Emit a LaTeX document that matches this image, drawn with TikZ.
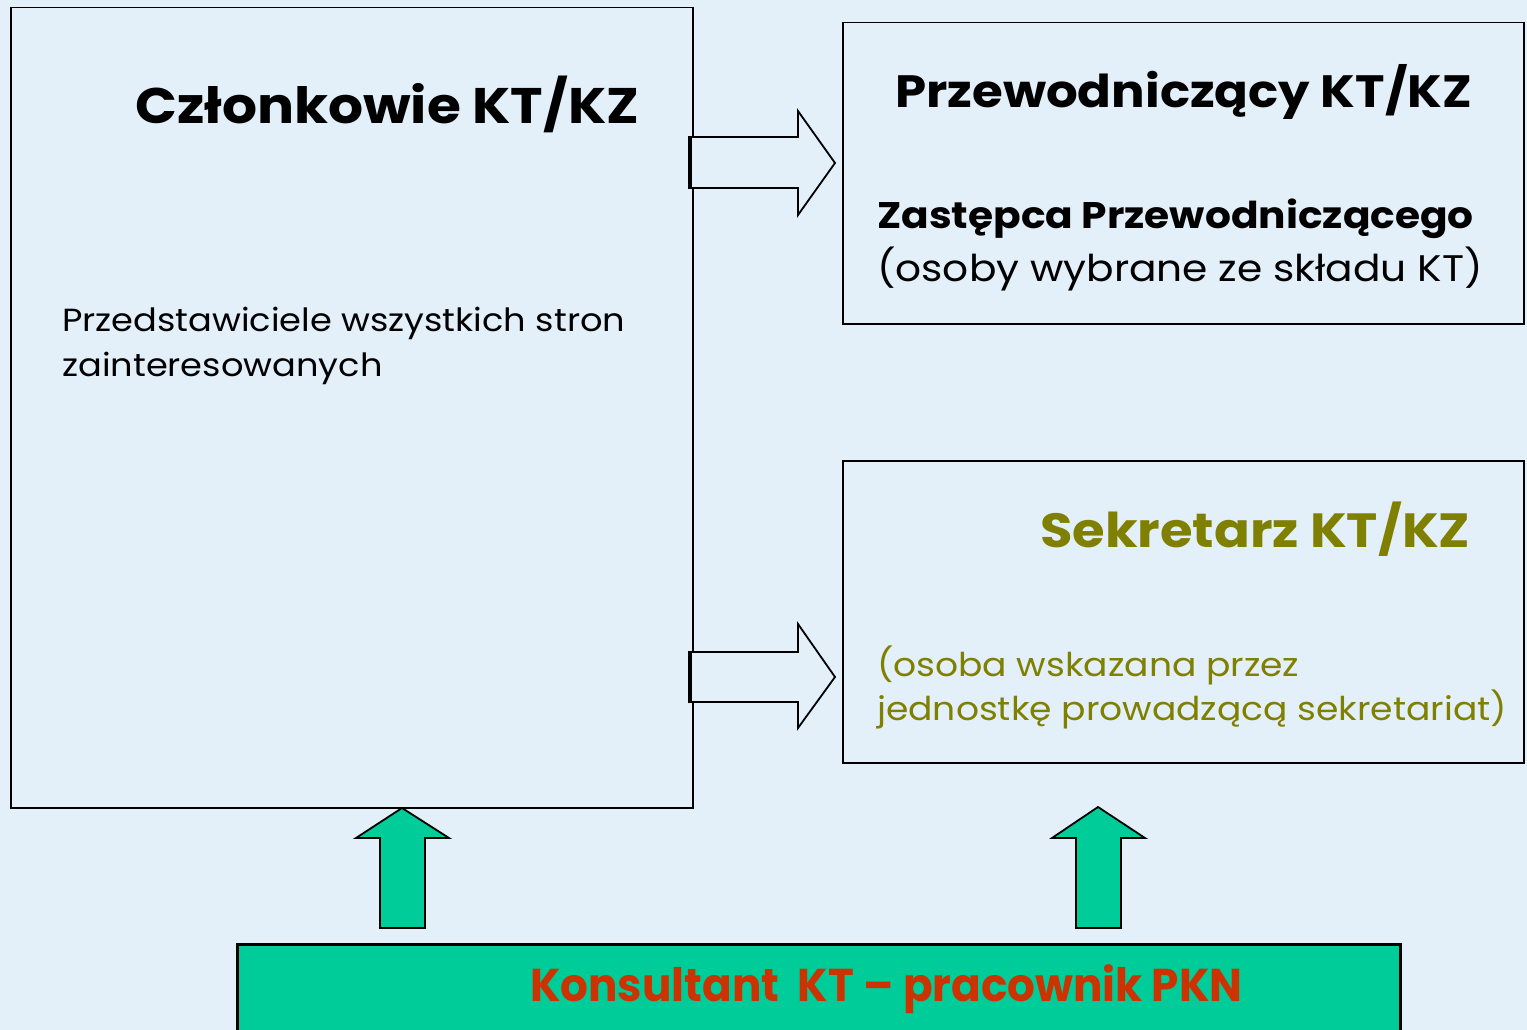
\documentclass[tikz,border=0pt]{standalone}
\usepackage{fontspec}
\setmainfont[FakeStretch=1.1]{Poppins}
\newfontfamily\condfont[FakeStretch=0.95]{Poppins}
\definecolor{bg}{HTML}{E3EFF9}
\definecolor{grn}{HTML}{00CC99}
\definecolor{olive}{HTML}{808000}
\definecolor{rust}{HTML}{CC3300}
\begin{document}
\begin{tikzpicture}[x=1pt,y=-1pt,
  box/.style={draw=black,line width=1.5pt,fill=bg,anchor=north west,inner sep=0pt},
  txt/.style={anchor=base west,inner sep=0pt},
  outarrow/.style={draw=black,line width=1.8pt,fill=bg,line join=miter},
  uparrow/.style={draw=black,line width=1.8pt,fill=grn,line join=miter}]
\useasboundingbox (0,0) rectangle (1527,1030);
\fill[bg] (0,0) rectangle (1527,1030);
% boxes
\node[box,minimum width=682pt,minimum height=800pt] (members) at (10,7) {};
\node[box,minimum width=681pt,minimum height=301pt] (chair) at (842,22) {};
\node[box,minimum width=681pt,minimum height=302pt] (secr) at (842,460) {};
% green box
\fill[grn] (237,944) rectangle (1400,1032);
\draw[line width=3pt] (237,1032) -- (237,944) -- (1400,944) -- (1400,1032);
% right arrows
\draw[outarrow] (691,137) -- (798,137) -- (798,111) -- (835,163) -- (798,215) -- (798,188) -- (691,188);
\draw[line width=4pt] (690,136) -- (690,189);
\draw[outarrow] (691,652) -- (798,652) -- (798,624) -- (835,677) -- (798,728) -- (798,702) -- (691,702);
\draw[line width=4pt] (690,651) -- (690,703);
% up arrows
\draw[uparrow] (380,928) -- (380,838) -- (356,838) -- (402,808) -- (449,838) -- (425,838) -- (425,928) -- cycle;
\draw[uparrow] (1076,928) -- (1076,838) -- (1052,838) -- (1098,807) -- (1145,838) -- (1121,838) -- (1121,928) -- cycle;
% texts
\node[txt,font=\fontsize{50}{60}\selectfont\bfseries] (t1) at (135,124) {Członkowie KT/KZ};
\node[txt,font=\fontsize{32}{36}\selectfont] (t2) at (62,331) {Przedstawiciele wszystkich stron};
\node[txt,font=\fontsize{32}{36}\selectfont] (t3) at (62,376) {zainteresowanych};
\node[txt,font=\fontsize{45.3}{50}\selectfont\bfseries] (t4) at (895,108) {Przewodniczący KT/KZ};
\node[txt,font=\fontsize{37}{42}\selectfont\bfseries] (t5) at (877,229) {Zastępca Przewodniczącego};
\node[txt,font=\fontsize{37}{40}\selectfont] (t6) at (877,281) {(osoby wybrane ze składu KT)};
\node[txt,font=\fontsize{48}{56}\selectfont\bfseries,text=olive] (t7) at (1040,547) {Sekretarz KT/KZ};
\node[txt,font=\fontsize{32.8}{38}\selectfont,text=olive] (t8) at (877,676) {(osoba wskazana przez};
\node[txt,font=\fontsize{32.8}{38}\selectfont,text=olive] (t9) at (877,720) {jednostkę prowadzącą sekretariat)};
\node[txt,font=\condfont\fontsize{46}{50}\selectfont\bfseries,text=rust] (t10) at (530,1001) {Konsultant\ \ KT – pracownik PKN};
\end{tikzpicture}
\end{document}
